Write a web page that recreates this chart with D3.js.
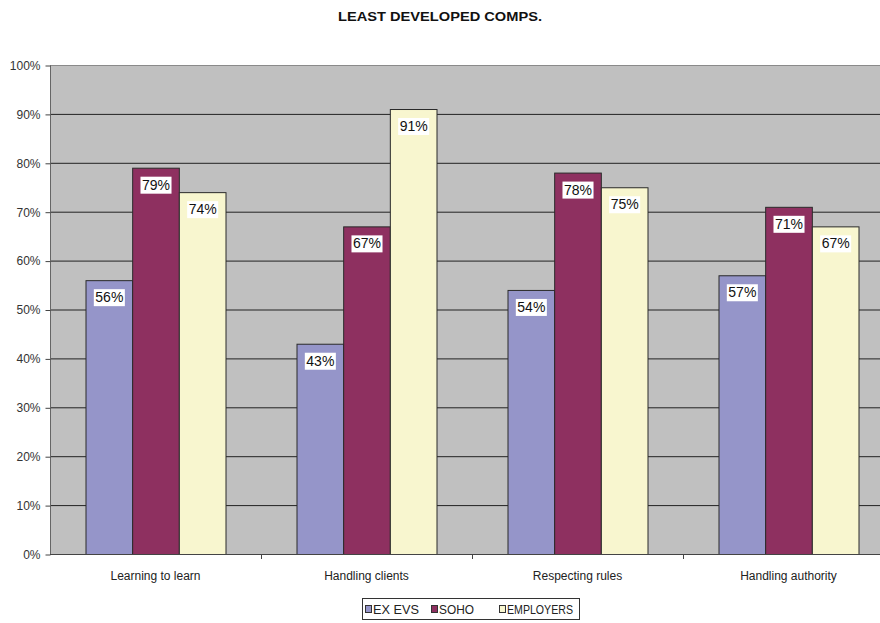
<!DOCTYPE html>
<html>
<head>
<meta charset="utf-8">
<script src="https://cdn.jsdelivr.net/npm/d3@7"></script>
<style>
  html, body { margin: 0; padding: 0; background: #fff; }
  svg { display: block; font-family: "Liberation Sans", Arial, sans-serif; }
</style>
</head>
<body>
<svg id="chart" width="880" height="623"></svg>
<script>
// Competence categories and the share of each respondent group per category
const categories = ["Learning to learn", "Handling clients", "Respecting rules", "Handling authority"];
const seriesNames = ["EX EVS", "SOHO", "EMPLOYERS"];
const exEvs = [56, 43, 54, 57];
const soho = [79, 67, 78, 71];
const employers = [74, 91, 75, 67];
const yTicks = [0, 10, 20, 30, 40, 50, 60, 70, 80, 90, 100];
const seriesColors = ["#9595C9", "#8E3060", "#F8F6CF"];

const seriesValues = [exEvs, soho, employers];

const svg = d3.select("#chart");
const plot = { left: 50, top: 65, bottom: 554, right: 894 };

const y = d3.scaleLinear().domain([0, 100]).range([plot.bottom, plot.top]);
const x = d3.scaleBand().domain(categories).range([plot.left, plot.right]).padding(0);
const xInner = d3.scaleBand().domain(seriesNames).range([35.5, x.bandwidth() - 35.5]).padding(0);

// Title
svg.append("text")
  .attr("x", 440).attr("y", 21)
  .attr("text-anchor", "middle")
  .attr("font-size", 12).attr("font-weight", "bold")
  .attr("fill", "#111")
  .attr("textLength", 204).attr("lengthAdjust", "spacingAndGlyphs")
  .text("LEAST DEVELOPED COMPS.");

// Plot background
svg.append("rect")
  .attr("x", plot.left).attr("y", plot.top)
  .attr("width", plot.right - plot.left).attr("height", plot.bottom - plot.top)
  .attr("fill", "#C0C0C0");

// Horizontal gridlines
svg.append("g").selectAll("line")
  .data(yTicks.filter(d => d > 0))
  .join("line")
  .attr("x1", plot.left).attr("x2", plot.right)
  .attr("y1", d => y(d) + 0.5).attr("y2", d => y(d) + 0.5)
  .attr("stroke", d => d === 100 ? "#8a8a8a" : "#222")
  .attr("stroke-width", 1);

// Bars
const groups = svg.append("g").selectAll("g")
  .data(categories)
  .join("g")
  .attr("transform", d => `translate(${x(d)},0)`);

groups.selectAll("rect")
  .data((c, i) => seriesNames.map((s, j) => ({ s, j, v: seriesValues[j][i] })))
  .join("rect")
  .attr("x", d => xInner(d.s) + 0.5)
  .attr("y", d => y(d.v) + 0.5)
  .attr("width", xInner.bandwidth())
  .attr("height", d => plot.bottom - y(d.v))
  .attr("fill", d => seriesColors[d.j])
  .attr("stroke", "#2a2a2a")
  .attr("stroke-width", 1);

// Value labels on white boxes
groups.each(function (c, i) {
  const g = d3.select(this);
  seriesNames.forEach((s, j) => {
    const v = seriesValues[j][i];
    const cx = xInner(s) + xInner.bandwidth() / 2 + 0.5;
    const cy = y(v) + 17;
    const t = g.append("text")
      .attr("x", cx).attr("y", cy + 5)
      .attr("text-anchor", "middle")
      .attr("font-size", 14)
      .attr("fill", "#111")
      .text(v + "%");
    const w = t.node().getComputedTextLength();
    g.insert("rect", () => t.node())
      .attr("x", cx - w / 2 - 1.5).attr("y", cy - 8)
      .attr("width", w + 3).attr("height", 17)
      .attr("fill", "#fff");
  });
});

// Y axis
const yAxis = svg.append("g").attr("transform", `translate(${plot.left + 0.5},0.5)`)
  .call(d3.axisLeft(y).tickValues(yTicks).tickSize(5).tickPadding(5).tickFormat(d => d + "%"));
yAxis.select(".domain").attr("stroke", "#666").attr("d", `M0,${plot.top}V${plot.bottom}`);
yAxis.selectAll(".tick line").attr("stroke", "#444");
yAxis.selectAll(".tick text")
  .attr("font-size", 12).attr("fill", "#333")
  .attr("font-family", "'Liberation Sans', Arial, sans-serif");

// X axis
const xAxis = svg.append("g").attr("transform", `translate(0,${plot.bottom + 0.5})`)
  .call(d3.axisBottom(x).tickSize(0).tickPadding(17));
xAxis.select(".domain").attr("stroke", "#444").attr("d", `M${plot.left},0H${plot.right}`);
xAxis.selectAll(".tick text")
  .attr("font-size", 12).attr("fill", "#222")
  .attr("font-family", "'Liberation Sans', Arial, sans-serif");
// Category separator ticks
svg.append("g").selectAll("line")
  .data(categories.slice(1))
  .join("line")
  .attr("x1", d => x(d) + 0.5).attr("x2", d => x(d) + 0.5)
  .attr("y1", plot.bottom).attr("y2", plot.bottom + 5)
  .attr("stroke", "#444");

// Legend
const legend = svg.append("g");
const legendStarts = [365, 431, 499];
const legendTextWidths = [46, 35, 66];
legend.append("rect")
  .attr("x", 362.5).attr("y", 598.5).attr("width", 217).attr("height", 21)
  .attr("fill", "#fff").attr("stroke", "#333");
seriesNames.forEach((s, j) => {
  legend.append("rect")
    .attr("x", legendStarts[j] + 0.5).attr("y", 605.5).attr("width", 6).attr("height", 7)
    .attr("fill", seriesColors[j]).attr("stroke", "#333");
  legend.append("text")
    .attr("x", legendStarts[j] + 8).attr("y", 614)
    .attr("font-size", 13).attr("fill", "#222")
    .attr("textLength", legendTextWidths[j]).attr("lengthAdjust", "spacingAndGlyphs")
    .text(s);
});
</script>
</body>
</html>
